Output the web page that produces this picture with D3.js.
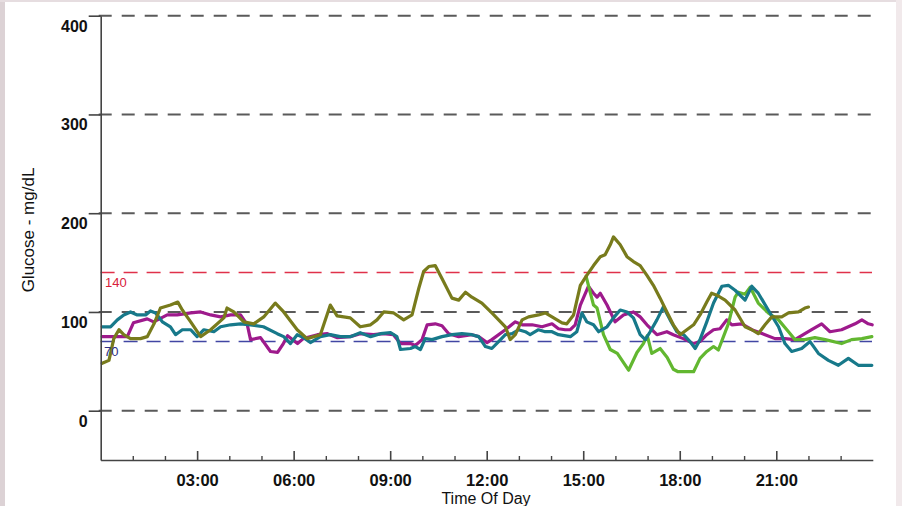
<!DOCTYPE html>
<html>
<head>
<meta charset="utf-8">
<script src="https://cdn.jsdelivr.net/npm/d3@7"></script>
<style>
  body { margin: 0; background: #fff; }
  svg { display: block; }
  .tick text { font-family: "Liberation Sans", Arial, sans-serif; }
</style>
</head>
<body>
<div id="chart"></div>
<script>
// glucose readings, [hour of day, mg/dL]
const purple = [
  [0.05,75],[0.83,75],[1.02,89],[1.45,93],[1.65,90],[2.07,97],[2.38,97],[2.80,99],[3.11,100],
  [3.42,97],[3.73,95],[4.04,97],[4.35,97],[4.56,87],[4.66,72],[4.97,74],[5.28,60],[5.50,59],
  [5.68,68],[5.81,76],[6.12,68],[6.30,73],[6.74,77],[7.05,78],[7.36,74],[7.76,75],[8.07,78],
  [8.48,77],[8.79,78],[9.10,77],[9.32,68],[9.63,68],[9.78,66],[9.99,72],[10.15,87],[10.40,88],
  [10.61,86],[10.82,78],[11.13,75],[11.54,77],[11.75,75],[12.01,69],[12.16,72],[12.58,82],
  [12.89,90],[13.10,87],[13.41,87],[13.72,85],[14.03,88],[14.23,83],[14.44,82],[14.60,82],
  [14.75,87],[14.91,107],[15.16,126],[15.32,119],[15.43,115],[15.53,119],[15.74,107],[15.99,90],
  [16.25,97],[16.56,100],[16.77,95],[16.98,87],[17.29,77],[17.60,80],[17.80,77],[18.11,73],
  [18.43,68],[18.63,70],[18.84,77],[19.05,82],[19.25,83],[19.46,92],[19.62,87],[19.93,88],
  [20.24,82],[20.65,77],[20.96,73],[21.27,73],[21.58,72],[21.89,78],[22.10,82],[22.41,88],
  [22.67,80],[23.03,82],[23.45,88],[23.66,92],[23.86,88],[23.98,87]
];

const teal = [
  [0.05,85],[0.31,85],[0.52,92],[0.72,97],[0.93,100],[1.14,97],[1.40,97],[1.55,101],[1.71,99],
  [1.92,90],[2.17,85],[2.33,77],[2.54,82],[2.80,82],[3.00,75],[3.21,82],[3.52,80],[3.73,85],
  [4.04,87],[4.35,88],[4.66,87],[5.06,85],[5.49,78],[5.69,75],[5.90,68],[6.11,77],[6.31,74],
  [6.52,69],[6.83,75],[7.14,77],[7.45,75],[7.76,75],[8.07,79],[8.39,75],[8.70,78],[9.01,79],
  [9.21,75],[9.32,62],[9.63,63],[9.78,65],[9.94,62],[10.09,73],[10.30,72],[10.61,75],[10.92,77],
  [11.23,78],[11.54,77],[11.75,75],[11.96,65],[12.16,63],[12.37,70],[12.58,77],[12.79,78],
  [12.99,82],[13.20,80],[13.35,77],[13.61,82],[13.82,80],[14.03,80],[14.23,77],[14.60,75],
  [14.80,80],[14.96,99],[15.11,90],[15.32,87],[15.48,80],[15.74,85],[15.94,94],[16.15,102],
  [16.36,100],[16.56,94],[16.77,77],[16.93,72],[17.08,80],[17.29,92],[17.49,105],[17.70,92],
  [17.91,80],[18.12,77],[18.32,70],[18.48,63],[18.63,72],[18.84,90],[19.05,109],[19.31,126],
  [19.51,127],[19.72,122],[20.03,112],[20.24,126],[20.44,119],[20.75,102],[21.07,85],[21.27,68],
  [21.48,60],[21.79,63],[22.05,70],[22.31,58],[22.62,51],[22.93,46],[23.24,53],[23.55,46],[23.97,46]
];

const olive = [
  [0.05,48],[0.26,51],[0.41,73],[0.57,82],[0.72,77],[0.93,73],[1.24,73],[1.45,75],[1.66,88],
  [1.86,104],[2.17,107],[2.40,110],[2.54,102],[2.80,90],[3.11,75],[3.42,82],[3.83,94],[3.93,104],
  [4.14,100],[4.45,90],[4.76,88],[5.07,95],[5.43,109],[5.69,100],[6.11,82],[6.42,73],[6.83,77],
  [7.14,107],[7.35,96],[7.76,94],[8.07,85],[8.39,87],[8.59,92],[8.80,100],[9.11,99],[9.42,92],
  [9.68,97],[9.89,124],[10.04,141],[10.20,146],[10.40,147],[10.61,134],[10.92,114],[11.13,112],
  [11.34,120],[11.54,115],[11.85,109],[12.16,99],[12.37,92],[12.58,85],[12.73,72],[12.89,77],
  [13.10,92],[13.30,95],[13.61,97],[13.82,99],[14.03,95],[14.34,89],[14.49,88],[14.70,97],
  [14.91,127],[15.11,137],[15.32,147],[15.53,156],[15.68,158],[15.84,168],[15.94,176],[16.15,168],
  [16.36,156],[16.56,151],[16.77,147],[16.98,137],[17.18,127],[17.39,114],[17.60,100],[17.80,87],
  [18.01,77],[18.22,82],[18.43,87],[18.63,97],[18.84,110],[18.99,119],[19.15,117],[19.41,112],
  [19.72,102],[20.03,85],[20.24,82],[20.44,78],[20.65,87],[20.86,95],[21.17,95],[21.38,99],
  [21.69,100],[21.89,104],[22.00,105]
];

const green = [
  [15.09,136],[15.32,107],[15.43,104],[15.63,77],[15.84,62],[16.06,58],[16.41,41],[16.67,59],
  [16.87,68],[16.99,76],[17.13,58],[17.39,63],[17.61,54],[17.80,42],[17.95,39.5],[18.43,39.5],
  [18.63,53],[18.84,60],[19.05,65],[19.20,61.5],[19.51,88],[19.72,115],[19.82,120],[20.03,118],
  [20.19,125],[20.44,109],[20.75,99],[21.07,92],[21.38,80],[21.58,72],[21.89,72],[22.20,74],
  [22.52,72],[23.03,68],[23.34,72],[23.66,73],[23.97,75]
];

const series = [
  { name: "purple", color: "#9e1a8c", data: purple },
  { name: "green", color: "#62b730", data: green },
  { name: "teal", color: "#17798a", data: teal },
  { name: "olive", color: "#787b1c", data: olive }
];

const gridValues = [0, 100, 200, 300, 400];
const majorHours = [3, 6, 9, 12, 15, 18, 21];
const minorHours = d3.range(1, 24).filter(h => h % 3 !== 0);
const targetHigh = 140;
const targetLow = 70;

const width = 902, height = 506;
const svg = d3.select("#chart").append("svg")
  .attr("width", width)
  .attr("height", height);

// faint pinkish frame of the screenshot
svg.append("rect").attr("x", 0).attr("y", 0).attr("width", width).attr("height", height).attr("fill", "#fff");
svg.append("rect").attr("x", 0).attr("y", 0).attr("width", 5).attr("height", height).attr("fill", "#dcd2d5");
svg.append("rect").attr("x", 0).attr("y", 0).attr("width", width).attr("height", 2).attr("fill", "#e6dde0");
svg.append("rect").attr("x", width - 6).attr("y", 0).attr("width", 6).attr("height", height).attr("fill", "#f1e9eb");

const x = d3.scaleLinear().domain([0, 24]).range([100.6, 872.8]);
const y = d3.scaleLinear().domain([-50, 400]).range([460.1, 15.7]);

const fmtHour = h => (h < 10 ? "0" : "") + h + ":00";

// dashed gridlines
svg.append("g")
  .selectAll("line")
  .data(gridValues)
  .join("line")
  .attr("x1", 98.7)
  .attr("x2", 872)
  .attr("y1", d => y(d))
  .attr("y2", d => y(d))
  .attr("stroke", "#5a5a5a")
  .attr("stroke-width", 2)
  .attr("stroke-dasharray", "13,10");

// target range lines
svg.append("line")
  .attr("x1", x(0)).attr("x2", 872)
  .attr("y1", y(targetHigh)).attr("y2", y(targetHigh))
  .attr("stroke", "#e0314a").attr("stroke-width", 1.5)
  .attr("stroke-dasharray", "14,9");
svg.append("line")
  .attr("x1", x(0)).attr("x2", 872)
  .attr("y1", y(targetLow)).attr("y2", y(targetLow))
  .attr("stroke", "#4146a3").attr("stroke-width", 1.5)
  .attr("stroke-dasharray", "14,9");

// glucose traces
const line = d3.line()
  .x(d => x(d[0]))
  .y(d => y(d[1]));

svg.append("g")
  .selectAll("path")
  .data(series)
  .join("path")
  .attr("d", d => line(d.data))
  .attr("fill", "none")
  .attr("stroke", d => d.color)
  .attr("stroke-width", 3.2)
  .attr("stroke-linejoin", "round")
  .attr("stroke-linecap", "round");

// limit labels sit over the traces
svg.append("text")
  .attr("x", 105).attr("y", y(targetHigh) + 14.5)
  .attr("fill", "#d8203a")
  .attr("font-family", "Liberation Sans, Arial, sans-serif")
  .attr("font-size", 13)
  .text(targetHigh);
svg.append("text")
  .attr("x", 104).attr("y", y(targetLow) + 14)
  .attr("fill", "#2b2e86")
  .attr("font-family", "Liberation Sans, Arial, sans-serif")
  .attr("font-size", 13)
  .text(targetLow);

// y axis
const yAxis = svg.append("g")
  .attr("transform", "translate(100.7,0)")
  .call(d3.axisLeft(y).tickValues(gridValues).tickSize(12).tickSizeOuter(0));
yAxis.select(".domain").attr("stroke", "#444").attr("stroke-width", 1.6);
yAxis.selectAll(".tick line").attr("stroke", "#444").attr("stroke-width", 1.6);
yAxis.selectAll(".tick text")
  .attr("x", -13)
  .attr("dy", 15.5)
  .attr("font-size", 16)
  .attr("font-weight", "bold")
  .attr("fill", "#111");

// x axis: minor hourly ticks, then labelled 3-hour ticks
const xMinor = svg.append("g")
  .attr("transform", "translate(0,460)")
  .call(d3.axisBottom(x).tickValues(minorHours).tickSize(-4).tickSizeOuter(0).tickFormat(""));
xMinor.select(".domain").attr("stroke", "#444").attr("stroke-width", 1.6);
xMinor.selectAll(".tick line").attr("stroke", "#444").attr("stroke-width", 1.4);

const xMajor = svg.append("g")
  .attr("transform", "translate(0,460)")
  .call(d3.axisBottom(x).tickValues(majorHours).tickSize(-9).tickSizeOuter(0)
    .tickPadding(14).tickFormat(fmtHour));
xMajor.select(".domain").remove();
xMajor.selectAll(".tick line").attr("stroke", "#444").attr("stroke-width", 1.6);
xMajor.selectAll(".tick text")
  .attr("font-size", 16.5)
  .attr("font-weight", "bold")
  .attr("fill", "#111");

// axis titles
svg.append("text")
  .attr("x", 486).attr("y", 503.5)
  .attr("text-anchor", "middle")
  .attr("font-family", "Liberation Sans, Arial, sans-serif")
  .attr("font-size", 16)
  .attr("fill", "#111")
  .text("Time Of Day");

svg.append("text")
  .attr("transform", "translate(34,230) rotate(-90)")
  .attr("text-anchor", "middle")
  .attr("font-family", "Liberation Sans, Arial, sans-serif")
  .attr("font-size", 17)
  .attr("fill", "#111")
  .text("Glucose - mg/dL");
</script>
</body>
</html>
